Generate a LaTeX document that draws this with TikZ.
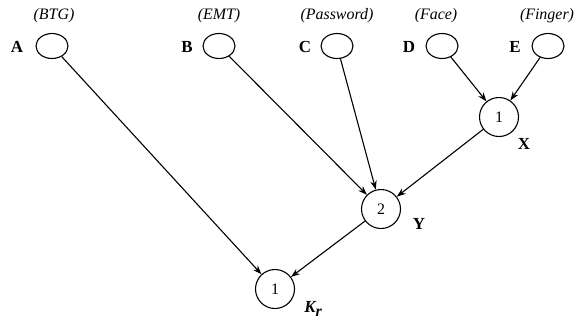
\documentclass[tikz,border=0pt]{standalone}
\usepackage{fontspec}
\setmainfont{Liberation Serif}
\usetikzlibrary{arrows.meta,shapes.geometric}
\begin{document}
\begin{tikzpicture}[x=1bp,y=-1bp,
  leaf/.style={draw,ellipse,minimum width=32bp,minimum height=25bp,inner sep=0pt,line width=1.1bp},
  gate/.style={draw,circle,minimum size=39bp,inner sep=0pt,line width=1.1bp,font=\fontsize{16}{16}\selectfont},
  lbl/.style={font=\fontsize{17}{17}\selectfont\bfseries,inner sep=0pt},
  src/.style={font=\fontsize{16}{16}\selectfont\itshape,inner sep=0pt},
  arr/.style={-{Stealth[length=9bp,width=6.5bp]},line width=1.1bp}]
\useasboundingbox (0,0) rectangle (584,323);
\node[leaf] (A) at (52,46) {};
\node[leaf] (B) at (219,46) {};
\node[leaf] (C) at (337,46) {};
\node[leaf] (D) at (442,46) {};
\node[leaf] (E) at (548,46) {};
\node[lbl] (la) at (17,47) {A};
\node[lbl] (lb) at (187,47) {B};
\node[lbl] (lc) at (305,47) {C};
\node[lbl] (ld) at (409,47) {D};
\node[lbl] (le) at (515,47) {E};
\node[src] (sa) at (54,16) {(BTG)};
\node[src] (sb) at (219,16) {(EMT)};
\node[src] (sc) at (337,16) {(Password)};
\node[src] (sd) at (436,16) {(Face)};
\node[src] (se) at (547,16) {(Finger)};
\node[gate] (X) at (499,117) {1};
\node[gate] (Y) at (381,209) {2};
\node[gate] (K) at (275,289) {1};
\node[lbl] (lx) at (524,144) {X};
\node[lbl] (ly) at (419,224) {Y};
\node[lbl] (lk) at (313,309) {\itshape K\raisebox{-0.45ex}{\fontsize{16}{16}\selectfont r}};
\draw[arr] (A) -- (K);
\draw[arr] (B) -- (Y);
\draw[arr] (C) -- (Y);
\draw[arr] (D) -- (X);
\draw[arr] (E) -- (X);
\draw[arr] (X) -- (Y);
\draw[arr] (Y) -- (K);
\end{tikzpicture}
\end{document}
